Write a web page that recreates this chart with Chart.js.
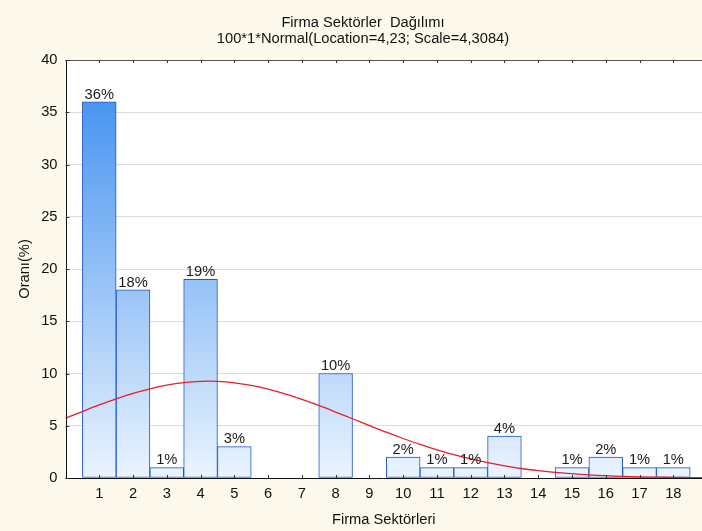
<!DOCTYPE html>
<html><head><meta charset="utf-8">
<script src="https://cdn.jsdelivr.net/npm/chart.js@4.4.1/dist/chart.umd.min.js"></script>
<style>html,body{margin:0;padding:0;background:#fdf8ec;}canvas{display:block}</style>
</head><body>
<canvas id="c" width="702" height="531"></canvas>
<script>
// ---- data ----
const categories = [1,2,3,4,5,6,7,8,9,10,11,12,13,14,15,16,17,18];
const shares = [36,18,1,19,3,0,0,10,0,2,1,1,4,0,1,2,1,1];
const curveX = [0,0.5,1,1.5,2,2.5,3,3.5,4,4.5,5,5.5,6,6.5,7,7.5,8,8.5,9,9.5,10,10.5,11,11.5,12,12.5,13,13.5,14,14.5,15,15.5,16,16.5,17,17.5,18,18.5,18.85];
const curveY = [5.72,6.36,6.99,7.58,8.10,8.54,8.89,9.13,9.25,9.24,9.11,8.87,8.51,8.06,7.53,6.94,6.31,5.67,5.02,4.38,3.78,3.21,2.69,2.23,1.82,1.47,1.17,0.91,0.71,0.54,0.41,0.30,0.22,0.16,0.11,0.08,0.06,0.04,0.03];
const yTicks = [0,5,10,15,20,25,30,35,40];
const titleText = 'Firma Sektörler  Dağılımı';
const subtitleText = '100*1*Normal(Location=4,23; Scale=4,3084)';
const xTitle = 'Firma Sektörleri';
const yTitle = 'Oranı(%)';

const FONT = '"Liberation Sans", Arial, sans-serif';
const FS = 14.7;

const bgPlugin = {
  id: 'bg',
  beforeDraw(chart) {
    const {ctx, chartArea: a} = chart;
    ctx.save();
    ctx.fillStyle = '#fdf8ec';
    ctx.fillRect(0, 0, chart.width, chart.height);
    ctx.fillStyle = '#ffffff';
    ctx.fillRect(a.left, a.top, a.right - a.left, a.bottom - a.top);
    // titles (centred over the original, wider figure)
    ctx.font = FS + 'px ' + FONT;
    ctx.fillStyle = '#111';
    ctx.textAlign = 'center';
    ctx.textBaseline = 'middle';
    ctx.fillText(titleText, 363, 23);
    ctx.fillText(subtitleText, 363, 39);
    ctx.restore();
  }
};

const framePlugin = {
  id: 'frame',
  afterDatasetsDraw(chart) {
    const {ctx, chartArea: a, scales: {x, y}} = chart;
    ctx.save();
    // value labels
    const meta = chart.getDatasetMeta(0);
    ctx.font = FS + 'px ' + FONT;
    ctx.fillStyle = '#1a1a1a';
    ctx.textAlign = 'center';
    ctx.textBaseline = 'bottom';
    meta.data.forEach((bar, i) => {
      if (shares[i] > 0) ctx.fillText(shares[i] + '%', bar.x, bar.y);
    });
    // frame
    ctx.lineWidth = 1;
    ctx.strokeStyle = '#555';
    ctx.beginPath();
    ctx.moveTo(a.left, Math.round(a.top) + 0.5);
    ctx.lineTo(a.right, Math.round(a.top) + 0.5);
    ctx.stroke();
    ctx.strokeStyle = '#111';
    ctx.beginPath();
    ctx.moveTo(Math.round(a.left) + 0.5, a.top);
    ctx.lineTo(Math.round(a.left) + 0.5, a.bottom + 1);
    ctx.moveTo(a.left, Math.round(a.bottom) + 0.5);
    ctx.lineTo(a.right, Math.round(a.bottom) + 0.5);
    ctx.stroke();
    // tick marks (inside)
    ctx.strokeStyle = '#333';
    ctx.beginPath();
    categories.forEach(v => {
      const px = Math.round(x.getPixelForValue(v)) + 0.5;
      ctx.moveTo(px, a.bottom); ctx.lineTo(px, a.bottom - 3);
      ctx.moveTo(px, a.top); ctx.lineTo(px, a.top + 3);
    });
    yTicks.forEach(v => {
      const py = Math.round(y.getPixelForValue(v)) + 0.5;
      ctx.moveTo(a.left, py); ctx.lineTo(a.left + 4, py);
    });
    ctx.stroke();
    ctx.restore();
  }
};

new Chart(document.getElementById('c'), {
  type: 'bar',
  data: {
    datasets: [
      {
        type: 'bar',
        order: 1,
        data: categories.map((c, i) => ({x: c, y: shares[i]})),
        barPercentage: 1,
        categoryPercentage: 1,
        borderColor: '#2157cc',
        borderWidth: ctx => (shares[ctx.dataIndex] > 0 ? 1 : 0),
        borderSkipped: false,
        backgroundColor: ctx => {
          const chart = ctx.chart;
          if (!chart.chartArea) return '#9cc6f7';
          const ys = chart.scales.y;
          const g = chart.ctx.createLinearGradient(0, ys.getPixelForValue(36), 0, ys.getPixelForValue(0));
          g.addColorStop(0, '#4a95f0');
          g.addColorStop(1, '#eaf4fe');
          return g;
        }
      },
      {
        type: 'line',
        order: 0,
        data: curveX.map((v, i) => ({x: v, y: curveY[i]})),
        borderColor: '#ee1c24',
        borderWidth: 1.3,
        pointRadius: 0,
        tension: 0.3,
        fill: false
      }
    ]
  },
  options: {
    responsive: false,
    animation: false,
    devicePixelRatio: 1,
    layout: {padding: {top: 60, left: 0, right: 0, bottom: 0}},
    plugins: {
      legend: {display: false},
      tooltip: {enabled: false},
      title: {display: false},
      subtitle: {display: false}
    },
    scales: {
      x: {
        type: 'linear',
        offset: false,
        min: 0, max: 18.85,
        afterBuildTicks: s => { s.ticks = categories.map(v => ({value: v})); },
        afterFit: s => { s.height = 53; },
        grid: {display: false, drawTicks: false, offset: false},
        border: {display: false},
        ticks: {padding: 6.7, color: '#111', font: {family: FONT, size: FS}, maxRotation: 0, autoSkip: false},
        title: {display: true, text: xTitle, color: '#111', font: {family: FONT, size: FS}, padding: {top: 0, bottom: 2.2}}
      },
      y: {
        min: 0, max: 40,
        afterBuildTicks: s => { s.ticks = yTicks.map(v => ({value: v})); },
        afterFit: s => { s.width = 65.5; },
        grid: {color: '#dcdcdc', drawTicks: false},
        border: {display: false},
        ticks: {padding: 8, color: '#111', font: {family: FONT, size: FS}},
        title: {display: true, text: yTitle, color: '#111', font: {family: FONT, size: FS}, padding: {top: 16.2, bottom: 0}}
      }
    }
  },
  plugins: [bgPlugin, framePlugin]
});
</script>
</body></html>
